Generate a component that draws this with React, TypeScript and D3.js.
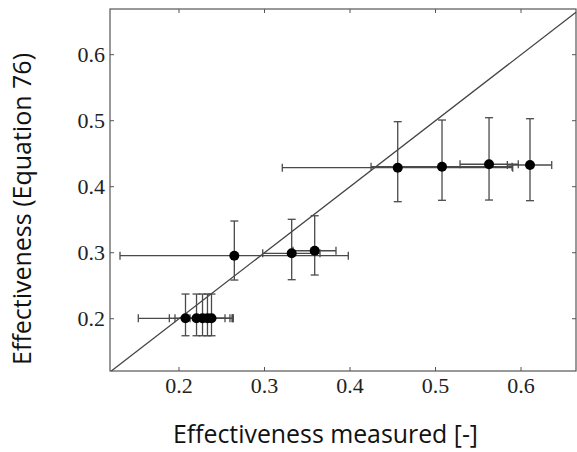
import React from "react";
import * as d3 from "d3";

const xVals = [0.2076, 0.2205, 0.2275, 0.2333, 0.238, 0.2647, 0.3318, 0.3587, 0.4558, 0.5076, 0.5626, 0.6105];
const xLow = [0.1524, 0.1887, 0.1953, 0.2047, 0.2129, 0.131, 0.2979, 0.3333, 0.3208, 0.4246, 0.5287, 0.584];
const xHigh = [0.2628, 0.2538, 0.2596, 0.262, 0.2635, 0.398, 0.3649, 0.3836, 0.5903, 0.5895, 0.5968, 0.6359];
const yVals = [0.2006, 0.2006, 0.2006, 0.2006, 0.2006, 0.2955, 0.2991, 0.303, 0.4288, 0.4303, 0.434, 0.4329];
const yLow = [0.1742, 0.1742, 0.1742, 0.1742, 0.1742, 0.2586, 0.2591, 0.2662, 0.3773, 0.3794, 0.3798, 0.3788];
const yHigh = [0.2374, 0.2374, 0.2374, 0.2374, 0.2374, 0.348, 0.3506, 0.356, 0.4985, 0.501, 0.5045, 0.503];
const tickVals = [0.2, 0.3, 0.4, 0.5, 0.6];
const xTitle = "Effectiveness measured [-]";
const yTitle = "Effectiveness (Equation 76)";

export default function App() {
  const W = 577, H = 452;
  const left = 110, right = 576, top = 9, bottom = 371;
  const x = d3.scaleLinear().domain([0.1193, 0.6643]).range([left, right]);
  const y = d3.scaleLinear().domain([0.1208, 0.6692]).range([bottom, top]);
  const stroke = "#4a4a4a";
  const cap = 4;
  const tl = 4;
  const d0 = Math.max(x.domain()[0], y.domain()[0]);
  const d1 = Math.min(x.domain()[1], y.domain()[1]);
  const serif = "'Liberation Serif', 'DejaVu Serif', serif";
  const sans = "'Open Sans', 'Noto Sans', sans-serif";
  return (
    <svg width={W} height={H} style={{ position: "absolute", left: 0, top: 0, background: "#fff" }}>
      <rect x={left} y={top} width={right - left} height={bottom - top} fill="none" stroke="#555" strokeWidth={1.2} />
      {tickVals.map((t) => (
        <g key={"t" + t}>
          <line x1={x(t)} x2={x(t)} y1={bottom} y2={bottom - tl} stroke="#555" />
          <line x1={x(t)} x2={x(t)} y1={top} y2={top + tl} stroke="#555" />
          <line x1={left} x2={left + tl} y1={y(t)} y2={y(t)} stroke="#555" />
          <line x1={right} x2={right - tl} y1={y(t)} y2={y(t)} stroke="#555" />
          <text x={x(t)} y={393} textAnchor="middle" fontFamily={serif} fontSize={22} fill="#222">{t.toFixed(1)}</text>
          <text x={105} y={y(t) + 7.5} textAnchor="end" fontFamily={serif} fontSize={22} fill="#222">{t.toFixed(1)}</text>
        </g>
      ))}
      <line x1={x(d0)} y1={y(d0)} x2={x(d1)} y2={y(d1)} stroke="#444" strokeWidth={1.3} />
      {xVals.map((xv, i) => {
        const cx = x(xv), cy = y(yVals[i]);
        const xl = x(xLow[i]), xh = x(xHigh[i]);
        const yl = y(yLow[i]), yh = y(yHigh[i]);
        return (
          <g key={"p" + i} stroke={stroke} strokeWidth={1.3}>
            <line x1={xl} x2={xh} y1={cy} y2={cy} />
            <line x1={xl} x2={xl} y1={cy - cap} y2={cy + cap} />
            <line x1={xh} x2={xh} y1={cy - cap} y2={cy + cap} />
            <line x1={cx} x2={cx} y1={yl} y2={yh} />
            <line x1={cx - cap} x2={cx + cap} y1={yl} y2={yl} />
            <line x1={cx - cap} x2={cx + cap} y1={yh} y2={yh} />
          </g>
        );
      })}
      {xVals.map((xv, i) => (
        <circle key={"c" + i} cx={x(xv)} cy={y(yVals[i])} r={5} fill="#000" />
      ))}
      <text x={173} y={443} fontFamily={sans} fontSize={25} fill="#111" textLength={305} lengthAdjust="spacingAndGlyphs">{xTitle}</text>
      <text transform="translate(31,365) rotate(-90)" x={0} y={0} fontFamily={sans} fontSize={25} fill="#111" textLength={312} lengthAdjust="spacingAndGlyphs">{yTitle}</text>
    </svg>
  );
}
